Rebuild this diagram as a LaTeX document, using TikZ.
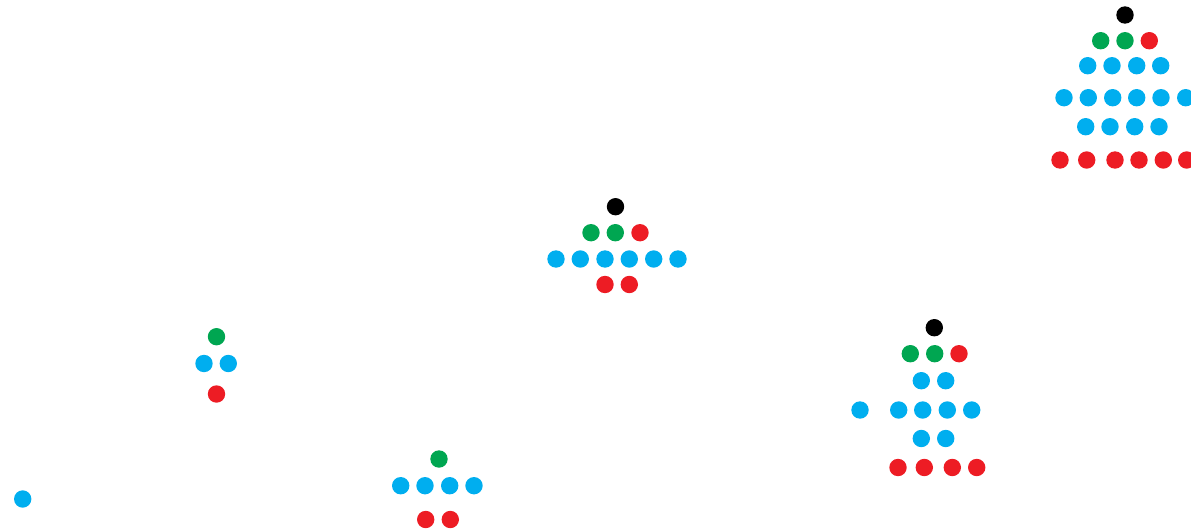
\documentclass[tikz,border=0pt]{standalone}
\definecolor{dotblue}{HTML}{00AEEF}
\definecolor{dotgreen}{HTML}{00A651}
\definecolor{dotred}{HTML}{ED1C24}
\tikzset{
  bdot/.style={fill=dotblue},
  gdot/.style={fill=dotgreen},
  rdot/.style={fill=dotred},
  kdot/.style={fill=black}
}
\newcommand{\drad}{0.174cm}
\begin{document}
\begin{tikzpicture}[x=0.02cm,y=-0.02cm]
  \useasboundingbox (0,0) rectangle (1191,531);

  % Lone dot
  \fill[bdot] (22.7,499) circle (\drad);

  % Small group left
  \fill[gdot] (216.5,336.7) circle (\drad);
  \foreach \x in {204,228.3} \fill[bdot] (\x,363.5) circle (\drad);
  \fill[rdot] (216.5,394) circle (\drad);

  % Bottom group
  \fill[gdot] (439,459) circle (\drad);
  \foreach \x in {400.7,425,449.7,474} \fill[bdot] (\x,485.7) circle (\drad);
  \foreach \x in {425.7,450.3} \fill[rdot] (\x,519.5) circle (\drad);

  % Middle group
  \fill[kdot] (615.5,206.7) circle (\drad);
  \foreach \x in {591,615.3} \fill[gdot] (\x,232.7) circle (\drad);
  \fill[rdot] (640,232.7) circle (\drad);
  \foreach \x in {556,580.3,605,629.3,653.7,678} \fill[bdot] (\x,259) circle (\drad);
  \foreach \x in {605,629.3} \fill[rdot] (\x,284.5) circle (\drad);

  % Lower right group
  \fill[kdot] (934.3,327.7) circle (\drad);
  \foreach \x in {910.3,934.7} \fill[gdot] (\x,353.7) circle (\drad);
  \fill[rdot] (959,353.7) circle (\drad);
  \foreach \x in {921.3,945.7} \fill[bdot] (\x,380.7) circle (\drad);
  \foreach \x in {860,898.7,922.7,947.3,971.7} \fill[bdot] (\x,410) circle (\drad);
  \foreach \x in {921.3,945.7} \fill[bdot] (\x,438.5) circle (\drad);
  \foreach \x in {898,924.3,952.3,976.7} \fill[rdot] (\x,467.5) circle (\drad);

  % Top right group
  \fill[kdot] (1125,15) circle (\drad);
  \foreach \x in {1100.7,1125} \fill[gdot] (\x,40.7) circle (\drad);
  \fill[rdot] (1149.3,40.7) circle (\drad);
  \foreach \x in {1087.7,1112,1136.7,1160.7} \fill[bdot] (\x,65.7) circle (\drad);
  \foreach \x in {1064,1088.3,1112.7,1136.7,1161,1185.7} \fill[bdot] (\x,97.7) circle (\drad);
  \foreach \x in {1085.7,1110,1134.7,1159} \fill[bdot] (\x,126.7) circle (\drad);
  \foreach \x in {1060,1086.7,1115,1139,1163.3,1186.7} \fill[rdot] (\x,160) circle (\drad);
\end{tikzpicture}
\end{document}
